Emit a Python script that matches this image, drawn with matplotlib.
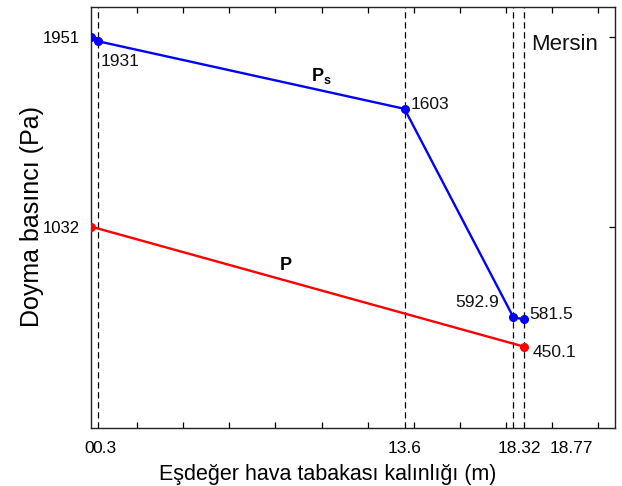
import matplotlib
matplotlib.use("Agg")
import matplotlib.pyplot as plt
from matplotlib.transforms import ScaledTranslation

plt.rcParams['font.family'] = ['Liberation Sans', 'DejaVu Sans']
plt.rcParams['mathtext.fontset'] = 'custom'
plt.rcParams['mathtext.bf'] = 'Liberation Sans:bold'
plt.rcParams['mathtext.rm'] = 'Liberation Sans'

# Layer boundaries (equivalent air layer thickness, m)
x_bounds = [0.0, 0.3, 13.6, 18.32, 18.77]
# Saturation pressure along the wall
ps_values = [1951, 1931, 1603, 592.9, 581.5]
# Partial vapour pressure (straight line inside to outside)
p_x = [0.0, 18.77]
p_values = [1032, 450.1]

tick_labels = ['0', '0.3', '13.6', '18.32', '18.77']
y_ticks = [1951, 1032]

fig = plt.figure(figsize=(6.22, 4.86), dpi=100)
ax = fig.add_axes([0.1463, 0.1193, 0.8424, 0.8663])

blue = '#0000ff'
red = '#ff0000'

for xb in x_bounds[1:]:
    ax.axvline(xb, color='black', lw=0.9, ls=(0, (5, 3)), zorder=1)

ax.plot(x_bounds, ps_values, color=blue, lw=1.7, marker='o', ms=5.5, zorder=3)
ax.plot(p_x, p_values, color=red, lw=1.7, marker='o', ms=5.5, zorder=3)

ax.set_xlim(0, 22.73)
ax.set_ylim(55, 2097)

# minor ticks every 2 m, labelled ticks at the layer boundaries
ax.set_xticks(range(0, 23, 2), minor=True)
ax.set_xticks(x_bounds)
ax.set_xticklabels(tick_labels)
ax.tick_params(axis='x', which='major', length=0, labelsize=12.5, pad=9)
ax.tick_params(axis='x', which='minor', direction='in', length=4, top=True, width=0.9)
ax.set_yticks(y_ticks)
ax.set_yticklabels([str(v) for v in y_ticks])
ax.tick_params(axis='y', direction='in', length=4, right=True, labelsize=12, width=0.9, pad=8)

shifts_px = [-2, 7, 0, 6, 48]
for lab, s in zip(ax.get_xticklabels(), shifts_px):
    lab.set_transform(lab.get_transform() + ScaledTranslation(s / 100, 0, fig.dpi_scale_trans))

for sp in ax.spines.values():
    sp.set_linewidth(1.0)
    sp.set_color('#222222')

# value labels next to the points
def note(x, y, text, dx, dy, ha):
    ax.annotate(text, (x, y), xytext=(dx * 0.72, dy * 0.72), textcoords='offset points',
                ha=ha, va='center', fontsize=12.5, color='#111111')

note(x_bounds[1], ps_values[1], f"{ps_values[1]:g}", 3, -20, 'left')
note(x_bounds[2], ps_values[2], f"{ps_values[2]:g}", 6, 4, 'left')
note(x_bounds[3], ps_values[3], f"{ps_values[3]:g}", -14, 15, 'right')
note(x_bounds[4], ps_values[4], f"{ps_values[4]:g}", 6, 5, 'left')
note(p_x[1], p_values[1], f"{p_values[1]:g}", 9, -6, 'left')

ax.text(10.0, 1762, r'$\mathbf{P_s}$', fontsize=13, ha='center', va='center')
ax.text(8.46, 841, r'$\mathbf{P}$', fontsize=13, ha='center', va='center')
ax.text(0.903, 0.912, 'Mersin', transform=ax.transAxes, fontsize=16,
        ha='center', va='center', color='#111111')

ax.set_xlabel('Eşdeğer hava tabakası kalınlığı (m)', fontsize=15.5, labelpad=4)
ax.xaxis.set_label_coords(0.451, -0.085)
ax.set_ylabel('Doyma basıncı (Pa)', fontsize=18)
ax.yaxis.set_label_coords(-0.09, 0.502)

fig.savefig('out.png', dpi=100)
